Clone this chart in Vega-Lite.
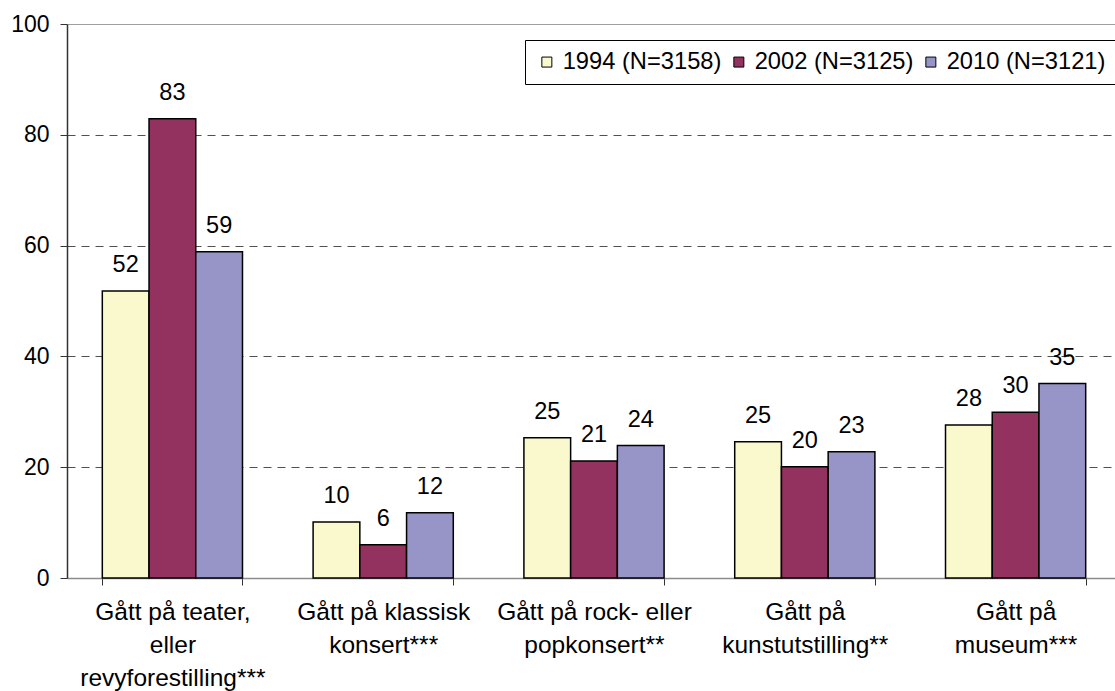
{
  "$schema": "https://vega.github.io/schema/vega-lite/v6.json",
  "width": 1054,
  "height": 554,
  "autosize": {"type": "none"},
  "padding": {"left": 67, "top": 24, "right": -6, "bottom": 113},
  "background": "white",
  "config": {"view": {"stroke": null}, "font": "Liberation Sans", "text": {"font": "Liberation Sans"}},
  "data": {
    "values": [
      {"activity": "Gått på teater,|eller|revyforestilling***", "year": "1994 (N=3158)", "value": 51.8},
      {"activity": "Gått på teater,|eller|revyforestilling***", "year": "2002 (N=3125)", "value": 82.9},
      {"activity": "Gått på teater,|eller|revyforestilling***", "year": "2010 (N=3121)", "value": 58.9},
      {"activity": "Gått på klassisk|konsert***", "year": "1994 (N=3158)", "value": 10.1},
      {"activity": "Gått på klassisk|konsert***", "year": "2002 (N=3125)", "value": 6.0},
      {"activity": "Gått på klassisk|konsert***", "year": "2010 (N=3121)", "value": 11.8},
      {"activity": "Gått på rock- eller|popkonsert**", "year": "1994 (N=3158)", "value": 25.3},
      {"activity": "Gått på rock- eller|popkonsert**", "year": "2002 (N=3125)", "value": 21.1},
      {"activity": "Gått på rock- eller|popkonsert**", "year": "2010 (N=3121)", "value": 23.9},
      {"activity": "Gått på|kunstutstilling**", "year": "1994 (N=3158)", "value": 24.6},
      {"activity": "Gått på|kunstutstilling**", "year": "2002 (N=3125)", "value": 20.1},
      {"activity": "Gått på|kunstutstilling**", "year": "2010 (N=3121)", "value": 22.8},
      {"activity": "Gått på|museum***", "year": "1994 (N=3158)", "value": 27.6},
      {"activity": "Gått på|museum***", "year": "2002 (N=3125)", "value": 29.9},
      {"activity": "Gått på|museum***", "year": "2010 (N=3121)", "value": 35.1}
    ]
  },
  "encoding": {
    "x": {
      "field": "activity",
      "type": "nominal",
      "sort": null,
      "scale": {"paddingInner": 0.335, "paddingOuter": 0.1675},
      "axis": {
        "title": null,
        "labelAngle": 0,
        "labelExpr": "split(datum.label, '|')",
        "labelFont": "Liberation Sans",
        "labelFontSize": 24.5,
        "labelLineHeight": 33,
        "labelColor": "black",
        "labelPadding": 15,
        "labelLimit": 400,
        "tickBand": "extent",
        "tickSize": 7,
        "tickColor": "#333333",
        "domainColor": "#8c8c8c",
        "domainWidth": 1.5
      }
    },
    "y": {
      "field": "value",
      "type": "quantitative",
      "scale": {"domain": [0, 100]},
      "axis": {
        "title": null,
        "values": [0, 20, 40, 60, 80, 100],
        "labelFont": "Liberation Sans",
        "labelFontSize": 23,
        "labelColor": "black",
        "labelPadding": 11,
        "tickSize": 7,
        "tickColor": "#333333",
        "domainColor": "#333333",
        "domainWidth": 1.5,
        "gridColor": {"condition": {"test": "datum.value === 100", "value": "#a0a0a0"}, "value": "#505050"},
        "gridDash": {"condition": {"test": "datum.value === 100", "value": []}, "value": [8, 6]},
        "gridOpacity": {"condition": {"test": "datum.value === 0", "value": 0}, "value": 1},
        "gridWidth": 1.2
      }
    },
    "xOffset": {"field": "year", "type": "nominal", "scale": {"paddingInner": 0, "paddingOuter": 0}}
  },
  "layer": [
    {
      "mark": {"type": "bar", "stroke": "black", "strokeWidth": 1.5},
      "encoding": {
        "color": {
          "field": "year",
          "type": "nominal",
          "scale": {
            "domain": ["1994 (N=3158)", "2002 (N=3125)", "2010 (N=3121)"],
            "range": ["#faf8cd", "#93325f", "#9794c7"]
          },
          "legend": {
            "orient": "none",
            "legendX": 458,
            "legendY": 16,
            "direction": "horizontal",
            "title": null,
            "labelFont": "Liberation Sans",
            "labelFontSize": 23.7,
            "labelColor": "black",
            "labelLimit": 400,
            "symbolType": "square",
            "symbolSize": 100,
            "symbolStrokeColor": "black",
            "symbolStrokeWidth": 1,
            "symbolOpacity": 1,
            "strokeColor": "black",
            "fillColor": "white",
            "padding": 10,
            "columnPadding": 5,
            "labelOffset": 4
          }
        }
      }
    },
    {
      "mark": {"type": "text", "dy": -19, "baseline": "alphabetic", "fontSize": 23.5, "font": "Liberation Sans", "color": "black"},
      "encoding": {
        "text": {"field": "value", "type": "quantitative", "format": ".0f"}
      }
    }
  ]
}
